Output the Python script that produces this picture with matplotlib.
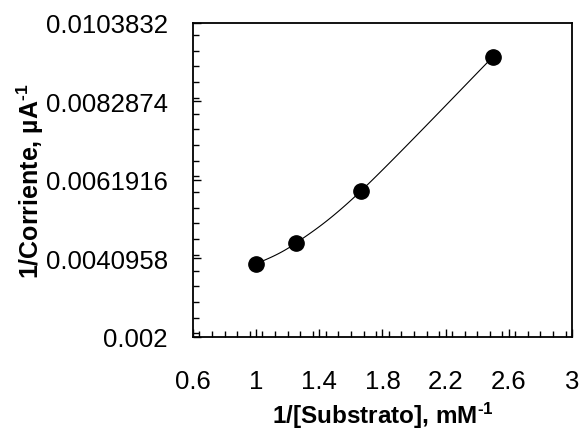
import matplotlib
matplotlib.use("Agg")
import matplotlib.pyplot as plt
import numpy as np
from matplotlib.ticker import FixedLocator, MultipleLocator

plt.rcParams["font.family"] = ["Liberation Sans", "DejaVu Sans"]
plt.rcParams["mathtext.default"] = "regular"

substrate_inv = [1.0, 1.25, 1.667, 2.5]
current_inv = [0.00395, 0.00450, 0.00591, 0.00948]

x_ticks = [0.6, 1.0, 1.4, 1.8, 2.2, 2.6, 3.0]
x_tick_labels = ["0.6", "1", "1.4", "1.8", "2.2", "2.6", "3"]
y_ticks = [0.002, 0.0040958, 0.0061916, 0.0082874, 0.0103832]
y_tick_labels = ["0.002", "0.0040958", "0.0061916", "0.0082874", "0.0103832"]


def smooth_curve(xs, ys, n=40):
    # catmull-rom style smoothing, like a spreadsheet "smoothed line"
    p = np.column_stack([xs, ys])
    p = np.vstack([p[0], p, p[-1]])
    out = []
    for i in range(1, len(p) - 2):
        p0, p1, p2, p3 = p[i - 1], p[i], p[i + 1], p[i + 2]
        c1 = p1 + (p2 - p0) / 6
        c2 = p2 - (p3 - p1) / 6
        t = np.linspace(0, 1, n)[:, None]
        seg = ((1 - t) ** 3) * p1 + 3 * ((1 - t) ** 2) * t * c1 + 3 * (1 - t) * t ** 2 * c2 + t ** 3 * p2
        out.append(seg)
    out = np.vstack(out)
    return out[:, 0], out[:, 1]


fig = plt.figure(figsize=(5.83, 4.35), dpi=100)
ax = fig.add_axes([0.331, 0.223, 0.65, 0.722])

sx, sy = smooth_curve(substrate_inv, current_inv)
ax.plot(sx, sy, color="black", lw=0.8, zorder=2)
ax.plot(substrate_inv, current_inv, "o", color="black", ms=11, zorder=3)

ax.set_xlim(0.6, 3.0)
ax.set_ylim(0.002, 0.0103832)
ax.xaxis.set_major_locator(FixedLocator(x_ticks))
ax.set_xticklabels(x_tick_labels)
ax.xaxis.set_minor_locator(MultipleLocator(0.08))
ax.yaxis.set_major_locator(FixedLocator(y_ticks))
ax.set_yticklabels(y_tick_labels)
ax.yaxis.set_minor_locator(MultipleLocator(0.0020958 / 5))

ax.tick_params(which="both", direction="in", colors="black", labelsize=18.5)
ax.tick_params(which="major", length=6, width=1.0)
ax.tick_params(which="minor", length=4, width=1.0)
ax.tick_params(axis="x", which="major", pad=23)
ax.tick_params(axis="y", which="major", pad=18)
for s in ax.spines.values():
    s.set_linewidth(1.3)

ax.set_xlabel("1/[Substrato], mM$^{\u2010 1}$", fontsize=17.5, fontweight="bold", labelpad=5)
ax.set_ylabel("1/Corriente, µA$^{\u2010 1}$", fontsize=18, fontweight="bold", labelpad=0)

fig.savefig("out.png", dpi=100)
